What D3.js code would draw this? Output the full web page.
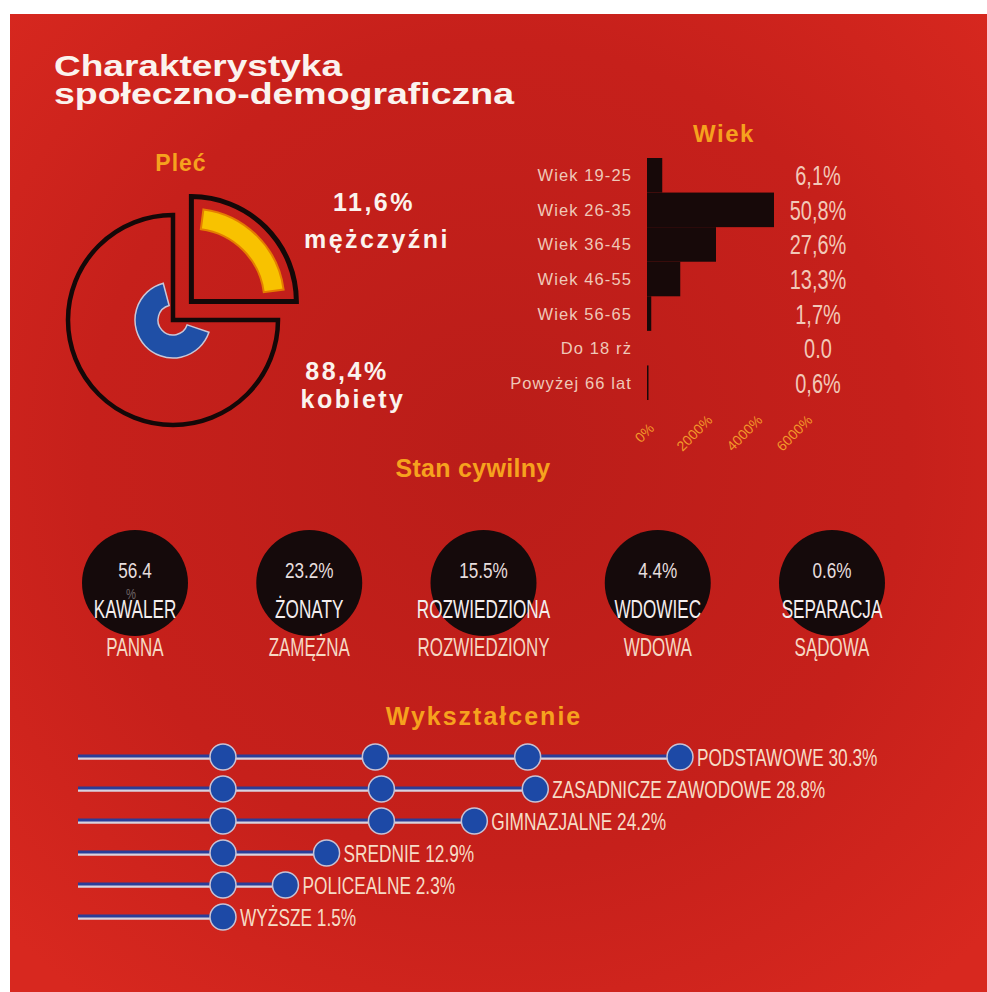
<!DOCTYPE html>
<html>

<head>
  <meta http-equiv="Content-Type" content="text/html;charset=utf-8">
  <title>Charakterystyka społeczno-demograficzna</title>
  <script src="https://d3js.org/d3.v7.min.js"></script>
  <style>
    html,
    body {
      margin: 0;
      padding: 0;
      background: #fff;
    }

    text {
      font-family: "Liberation Sans", Arial, sans-serif;
    }

    .head {
      font-weight: bold;
      fill: #f6a21e;
    }
  </style>
</head>

<body>

  <script type="text/javascript">

    // Płeć
    var plecLabels = ["mężczyźni", "kobiety"];
    var plecValues = ["11,6%", "88,4%"];
    var plecSlices = [25, 75]; // slice shares as drawn in the icon

    // Wiek
    var wiekCats = ["Wiek 19-25", "Wiek 26-35", "Wiek 36-45", "Wiek 46-55", "Wiek 56-65", "Do 18 rż", "Powyżej 66 lat"];
    var wiekValues = [6.1, 50.8, 27.6, 13.3, 1.7, 0.0, 0.6];
    var wiekLabels = ["6,1%", "50,8%", "27,6%", "13,3%", "1,7%", "0.0", "0,6%"];
    var wiekTicks = [0, 20, 40, 60];
    var wiekTickLabels = ["0%", "2000%", "4000%", "6000%"];

    // Stan cywilny
    var stanValues = ["56.4", "23.2%", "15.5%", "4.4%", "0.6%"];
    var stanTop = ["KAWALER", "ŻONATY", "ROZWIEDZIONA", "WDOWIEC", "SEPARACJA"];
    var stanBottom = ["PANNA", "ZAMĘŻNA", "ROZWIEDZIONY", "WDOWA", "SĄDOWA"];

    // Wykształcenie
    var eduNames = ["PODSTAWOWE", "ZASADNICZE ZAWODOWE", "GIMNAZJALNE", "SREDNIE", "POLICEALNE", "WYŻSZE"];
    var eduValues = ["30.3%", "28.8%", "24.2%", "12.9%", "2.3%", "1.5%"];
    var eduDots = [[0, 1, 2, 3], [0, 1.04, 2.05], [0, 1.04, 1.65], [0, 0.68], [0, 0.41], [0]];

    var W = 987, H = 992;

    // condensed look: squeeze a normal font horizontally
    function narrow(sel, px, py, sx) {
      sel.attr("x", 0).attr("y", 0)
        .attr("transform", function (d, i) {
          var X = typeof px == "function" ? px(d, i) : px;
          var Y = typeof py == "function" ? py(d, i) : py;
          return "translate(" + X + "," + Y + ") scale(" + sx + ",1)";
        });
      return sel;
    }

    var svg = d3.select("body").append("svg")
      .attr("width", W)
      .attr("height", H);

    var defs = svg.append("defs");
    var grad = defs.append("radialGradient").attr("id", "bg")
      .attr("cx", "0.5").attr("cy", "0.45").attr("r", "0.7");
    grad.append("stop").attr("offset", "0").attr("stop-color", "#ba1d19");
    grad.append("stop").attr("offset", "0.6").attr("stop-color", "#c6201b");
    grad.append("stop").attr("offset", "1").attr("stop-color", "#d8281f");

    svg.append("rect")
      .attr("x", 10).attr("y", 14)
      .attr("width", W - 10).attr("height", H - 14)
      .attr("fill", "url(#bg)");

    // title
    var title = svg.append("g")
      .attr("font-weight", "bold")
      .attr("font-size", 30)
      .attr("fill", "#fbf3ee");
    title.append("text").attr("x", 54).attr("y", 76)
      .attr("textLength", 288).attr("lengthAdjust", "spacingAndGlyphs")
      .text("Charakterystyka");
    title.append("text").attr("x", 54).attr("y", 104)
      .attr("textLength", 460).attr("lengthAdjust", "spacingAndGlyphs")
      .text("społeczno-demograficzna");

    // ---- Płeć ----
    svg.append("text").attr("class", "head")
      .attr("x", 181).attr("y", 171)
      .attr("text-anchor", "middle")
      .attr("font-size", 23)
      .attr("letter-spacing", 1)
      .text("Pleć");

    var pie = d3.pie().sort(null)(plecSlices);
    var center = [173, 320];
    var outer = 105;

    var pieG = svg.append("g").attr("transform", "translate(" + center + ")");

    pie.forEach(function (s, i) {
      var mid = (s.startAngle + s.endAngle) / 2;
      var off = i == 0 ? 26 : 0;
      var g = pieG.append("g")
        .attr("transform", "translate(" + (Math.sin(mid) * off) + "," + (-Math.cos(mid) * off) + ")");

      g.append("path")
        .attr("d", d3.arc().innerRadius(0).outerRadius(outer)(s))
        .attr("fill", "none")
        .attr("stroke", "#140808")
        .attr("stroke-width", i == 0 ? 5 : 4.5)
        .attr("stroke-linejoin", "miter");

      if (i == 0) {
        g.append("path")
          .attr("d", d3.arc().innerRadius(73).outerRadius(93)
            .startAngle(s.startAngle + 0.13).endAngle(s.endAngle - 0.13)())
          .attr("fill", "#f8c200")
          .attr("stroke", "#e57d00")
          .attr("stroke-width", 2);
      } else {
        g.append("path")
          .attr("d", d3.arc().innerRadius(15).outerRadius(38)
            .startAngle(s.startAngle + 0.33).endAngle(s.endAngle - 0.26)())
          .attr("fill", "#1f4fa6")
          .attr("stroke", "#c9c6d6")
          .attr("stroke-width", 1.5);
      }
    });

    var plecText = svg.append("g")
      .attr("font-weight", "bold")
      .attr("font-size", 25)
      .attr("letter-spacing", 2.5)
      .attr("fill", "#fbf3ee")
      .attr("text-anchor", "middle");
    var plecPos = [[374, 211, 377, 248], [347, 380, 353, 408]];
    plecPos.forEach(function (p, i) {
      plecText.append("text").attr("x", p[0]).attr("y", p[1]).text(plecValues[i]);
      plecText.append("text").attr("x", p[2]).attr("y", p[3]).text(plecLabels[i]);
    });

    // ---- Wiek ----
    svg.append("text").attr("class", "head")
      .attr("x", 724).attr("y", 142)
      .attr("text-anchor", "middle")
      .attr("font-size", 24)
      .attr("letter-spacing", 1.5)
      .text("Wiek");

    var x = d3.scaleLinear().domain([0, 60]).range([647, 797]);
    var y = d3.scaleBand().domain(wiekCats).range([158, 400]).padding(0);

    svg.append("g").selectAll("rect")
      .data(wiekValues)
      .join("rect")
      .attr("x", x(0))
      .attr("y", function (d, i) { return y(wiekCats[i]); })
      .attr("width", function (d) { return x(d) - x(0); })
      .attr("height", y.bandwidth())
      .attr("fill", "#170909");

    svg.append("g").selectAll("text")
      .data(wiekCats)
      .join("text")
      .attr("x", 632)
      .attr("y", function (d) { return y(d) + y.bandwidth() / 2 + 6; })
      .attr("text-anchor", "end")
      .attr("font-family", "'DejaVu Sans', sans-serif")
      .attr("font-size", 16.5)
      .attr("letter-spacing", 1.1)
      .attr("fill", "#efc8b8")
      .text(function (d) { return d; });

    narrow(svg.append("g").selectAll("text")
      .data(wiekLabels)
      .join("text"), 818, function (d, i) { return y(wiekCats[i]) + y.bandwidth() / 2 + 10; }, 0.74)
      .attr("text-anchor", "middle")
      .attr("font-size", 27)
      .attr("fill", "#f2c8b8")
      .text(function (d) { return d; });

    var axis = svg.append("g")
      .attr("transform", "translate(0,402)")
      .call(d3.axisBottom(x).tickValues(wiekTicks)
        .tickFormat(function (d, i) { return wiekTickLabels[i]; })
        .tickSize(0));
    axis.select(".domain").remove();
    axis.selectAll("text")
      .attr("y", 0).attr("dy", "0.35em")
      .attr("transform", "translate(-3,31) rotate(-45)")
      .attr("text-anchor", "middle")
      .attr("font-size", 14)
      .attr("fill", "#f39a2a");

    // ---- Stan cywilny ----
    svg.append("text").attr("class", "head")
      .attr("x", 473).attr("y", 477)
      .attr("text-anchor", "middle")
      .attr("font-size", 25)
      .attr("letter-spacing", 0.3)
      .text("Stan cywilny");

    var sx = d3.scalePoint().domain(stanTop).range([135, 832]);
    var cy = 583;

    var stan = svg.append("g").selectAll("g")
      .data(stanTop)
      .join("g")
      .attr("transform", function (d) { return "translate(" + sx(d) + "," + cy + ")"; });

    stan.append("circle")
      .attr("r", 53)
      .attr("fill", "#150a0b");

    narrow(stan.append("text"), 0, -5, 0.78)
      .attr("text-anchor", "middle")
      .attr("font-size", 22)
      .attr("fill", "#e6dede")
      .text(function (d, i) { return stanValues[i]; });

    // the "%" of the first value wraps to a second line behind the label
    narrow(stan.filter(function (d, i) { return stanValues[i].indexOf("%") < 0; })
      .append("text"), -4, 16, 0.75)
      .attr("text-anchor", "middle")
      .attr("font-size", 15)
      .attr("fill", "#6e6464")
      .text("%");

    narrow(stan.append("text"), 0, 35, 0.66)
      .attr("text-anchor", "middle")
      .attr("font-size", 26)
      .attr("fill", "#f4eeee")
      .text(function (d) { return d; });

    narrow(stan.append("text"), 0, 73, 0.68)
      .attr("text-anchor", "middle")
      .attr("font-size", 25)
      .attr("fill", "#f6d8c4")
      .text(function (d, i) { return stanBottom[i]; });

    // ---- Wykształcenie ----
    svg.append("text").attr("class", "head")
      .attr("x", 484).attr("y", 725)
      .attr("text-anchor", "middle")
      .attr("font-size", 25)
      .attr("letter-spacing", 2)
      .text("Wykształcenie");

    var ex = d3.scaleLinear().domain([0, 3]).range([223, 680]);
    var ey = d3.scalePoint().domain(eduNames).range([757, 917]);
    var lineStart = 78;

    var edu = svg.append("g").selectAll("g")
      .data(eduNames)
      .join("g")
      .attr("transform", function (d) { return "translate(0," + ey(d) + ")"; });

    edu.append("line")
      .attr("x1", lineStart)
      .attr("x2", function (d, i) { return ex(d3.max(eduDots[i])); })
      .attr("y1", 1.4).attr("y2", 1.4)
      .attr("stroke", "#d9d2de")
      .attr("stroke-width", 2.6);

    edu.append("line")
      .attr("x1", lineStart)
      .attr("x2", function (d, i) { return ex(d3.max(eduDots[i])); })
      .attr("y1", -1).attr("y2", -1)
      .attr("stroke", "#2b3d98")
      .attr("stroke-width", 3.2);

    edu.selectAll("circle")
      .data(function (d, i) { return eduDots[i]; })
      .join("circle")
      .attr("cx", function (d) { return ex(d); })
      .attr("r", 13)
      .attr("fill", "#1d49a6")
      .attr("stroke", "#c8c2d4")
      .attr("stroke-width", 1.5);

    narrow(edu.append("text"), function (d, i) { return ex(d3.max(eduDots[i])) + 17; }, 9, 0.72)
      .attr("font-size", 24)
      .attr("fill", "#f6dcc6")
      .text(function (d, i) { return d + " " + eduValues[i]; });

  </script>
</body>

</html>
